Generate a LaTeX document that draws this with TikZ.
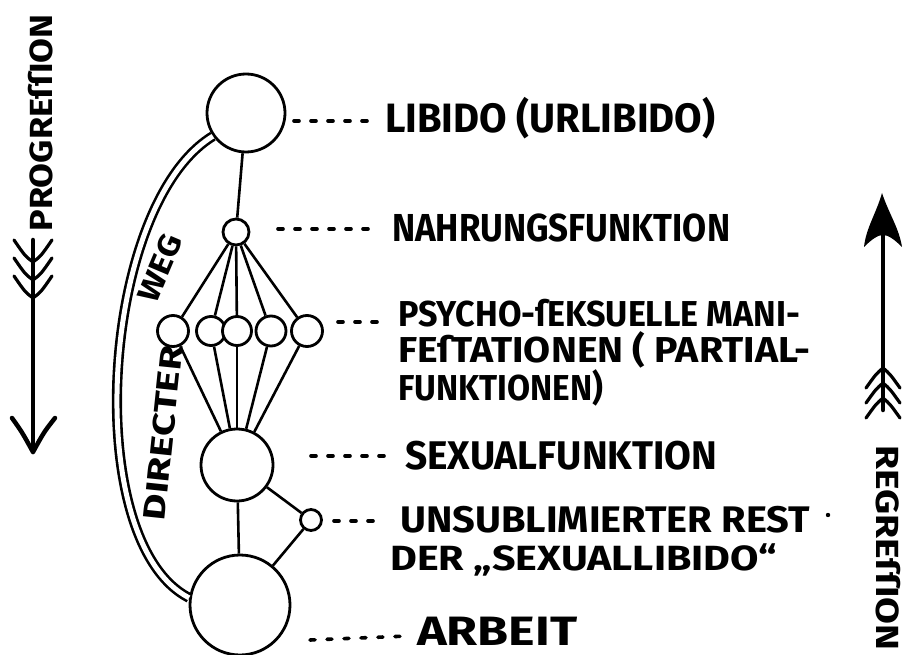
\documentclass[tikz,border=0pt]{standalone}
\usepackage{fontspec}
\setmainfont{Fira Sans}
\usepackage{graphicx}
\newcommand\lab[3]{\resizebox{#1}{\height}{\fontsize{#2}{#2}\selectfont\bfseries #3}}
\begin{document}
\begin{tikzpicture}[x=1pt,y=-1pt,
  circ/.style={draw, circle, line width=2.8pt, inner sep=0pt, fill=white},
  ln/.style={line width=2.6pt},
  dashline/.style={line width=3.6pt, dash pattern=on 5pt off 12pt, line cap=round},
  lbl/.style={anchor=west, inner sep=0pt},
  arr/.style={line width=4.5pt, line cap=round, line join=round},
  feather/.style={line width=3.2pt, line cap=round}]
\fill[white] (0,0) rectangle (905,655);
\useasboundingbox (0,0) rectangle (905,655);

% circles
\node[circ, minimum size=78pt] (lib) at (246,113) {};
\node[circ, minimum size=26pt] (nah) at (236,232) {};
\node[circ, minimum size=31pt] (p1) at (173,331) {};
\node[circ, minimum size=29pt] (p2) at (211,331) {};
\node[circ, minimum size=29pt] (p3) at (237,331) {};
\node[circ, minimum size=30pt] (p4) at (271,331) {};
\node[circ, minimum size=31pt] (p5) at (307,331) {};
\node[circ, minimum size=72pt] (sex) at (237,465) {};
\node[circ, minimum size=21pt] (rest) at (311,520) {};
\node[circ, minimum size=100pt] (arb) at (240,605) {};

% connectors
\draw[ln] (lib) -- (nah);
\foreach \p in {p1,p2,p3,p4,p5} {
  \draw[ln] (nah) -- (\p);
  \draw[ln] (\p) -- (sex);
}
\draw[ln] (sex) -- (arb);
\draw[ln] (sex) -- (rest);
\draw[ln] (rest) -- (arb);

% directer weg (double line)
\draw[line width=2.6pt, double=white, double distance=5pt]
  (lib.215) .. controls (100,205) and (80,542) .. (arb.172);
\node[rotate=84, inner sep=0pt] (dir) at (163,433) {\lab{175pt}{31}{DIRECTER}};
\node[rotate=67, inner sep=0pt] (weg) at (160,268) {\lab{70pt}{31}{WEG}};

% labels
\node[lbl] (t1) at (385,118) {\lab{330pt}{41}{LIBIDO (URLIBIDO)}};
\node[lbl] (t2) at (392,228) {\lab{338pt}{39}{NAHRUNGSFUNKTION}};
\node[lbl] (t3) at (398,313) {\lab{402pt}{36}{PSYCHO-ſEKSUELLE MANI-}};
\node[lbl] (t4) at (398,350) {\lab{412pt}{36}{FEſTATIONEN ( PARTIAL-}};
\node[lbl] (t5) at (398,388) {\lab{205pt}{36}{FUNKTIONEN)}};
\node[lbl] (t6) at (405,456) {\lab{312pt}{40}{SEXUALFUNKTION}};
\node[lbl] (t7) at (400,520) {\lab{410pt}{37}{UNSUBLIMIERTER REST}};
\node[lbl] (t8) at (390,560) {\lab{387pt}{35}{DER „SEXUALLIBIDO“}};
\node[lbl] (t9) at (417,631) {\lab{160pt}{41}{ARBEIT}};
\fill (828,515) circle (2.2pt);

% dashed leaders
\coordinate (d1a) at (294,121); \coordinate (d1b) at (372,121);
\coordinate (d2a) at (278,229); \coordinate (d2b) at (375,229);
\coordinate (d3a) at (338,322); \coordinate (d3b) at (378,322);
\coordinate (d4a) at (311,456); \coordinate (d4b) at (384,456);
\coordinate (d5a) at (334,521); \coordinate (d5b) at (378,521);
\coordinate (d6a) at (310,640); \coordinate (d6b) at (408,636);
\foreach \i in {1,...,6} {\draw[dashline] (d\i a) -- (d\i b);}

% progression arrow (down)
\node[rotate=90, inner sep=0pt] (prog) at (41,123) {\lab{217pt}{32}{PROGREſſION}};
\coordinate (pa) at (33,240); \coordinate (pb) at (33,452);
\draw[arr] (pa) -- (pb);
\draw[arr] (12,418) .. controls (22,432) .. (pb) .. controls (44,432) .. (55,418);
\foreach \yv in {262,280,298} {
  \draw[feather] (33,\yv) .. controls (25,\yv-6) .. (14,\yv-22);
  \draw[feather] (33,\yv) .. controls (41,\yv-6) .. (52,\yv-22);
}

% regression arrow (up)
\node[rotate=-90, inner sep=0pt] (reg) at (888,548) {\lab{205pt}{32}{REGREſſION}};
\coordinate (ra) at (883,410); \coordinate (rb) at (883,232);
\draw[arr] (ra) -- (rb);
\fill (882,193) .. controls (876,214) and (866,228) .. (864,247)
  .. controls (872,239) and (878,235) .. (883,235)
  .. controls (888,235) and (894,239) .. (902,247)
  .. controls (899,228) and (889,214) .. (882,193) -- cycle;
\foreach \yv in {368,383,398} {
  \draw[feather] (883,\yv) .. controls (876,\yv+6) .. (866,\yv+20);
  \draw[feather] (883,\yv) .. controls (890,\yv+6) .. (900,\yv+20);
}
\end{tikzpicture}
\end{document}
